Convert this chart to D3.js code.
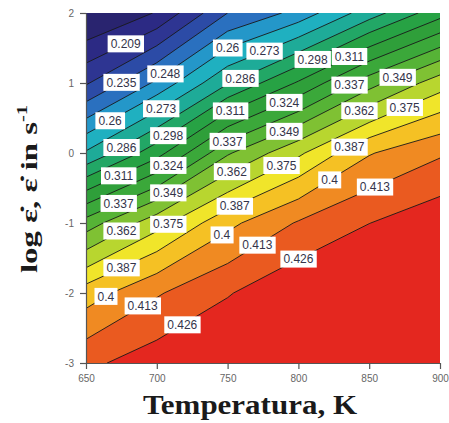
<!DOCTYPE html>
<html>
<head>
<meta charset="utf-8">
<script src="https://cdn.jsdelivr.net/npm/d3@7"></script>
<style>
  html, body { margin: 0; padding: 0; background: #ffffff; }
  svg { display: block; }
</style>
</head>
<body>
<svg id="chart" width="449" height="423"></svg>
<script>
// ---------------- data ----------------
const temps = [650, 700, 750, 800, 850, 900];          // K (grid columns)
const rates = [2, 1, 0, -1, -2, -3];                   // log strain rate (grid rows, top to bottom)
const rowL2  = [0.180, 0.197, 0.235, 0.252, 0.280, 0.306];
const rowL1  = [0.2205, 0.2505, 0.285, 0.3126, 0.344, 0.3693];
const rowL0  = [0.2747, 0.306, 0.3474, 0.3726, 0.399, 0.4113];
const rowLm1 = [0.3423, 0.370, 0.3965, 0.4143, 0.4258, 0.435];
const rowLm2 = [0.3935, 0.4116, 0.425, 0.437, 0.447, 0.455];
const rowLm3 = [0.423, 0.433, 0.440, 0.448, 0.458, 0.465];
const levels = [0.196, 0.209, 0.222, 0.235, 0.248, 0.26, 0.273, 0.286, 0.298, 0.311,
                0.324, 0.337, 0.349, 0.362, 0.375, 0.387, 0.4, 0.413, 0.426];
const labelLevels = [0.209, 0.235, 0.248, 0.26, 0.273, 0.286, 0.298, 0.311, 0.324, 0.337, 0.349, 0.362, 0.375, 0.387, 0.4, 0.413, 0.426,
                     0.26, 0.273, 0.298, 0.311, 0.286, 0.311, 0.324, 0.337, 0.349, 0.362, 0.375, 0.387, 0.4, 0.413, 0.426,
                     0.337, 0.349, 0.362, 0.375, 0.387, 0.4, 0.413];
const labelTemps  = [678, 675, 706, 667, 703, 675, 708, 673, 708, 673, 708, 675, 708, 675, 664, 690, 718,
                     750, 776, 810, 836, 759, 752, 790, 750, 790, 753, 788, 755, 746, 771, 800,
                     836, 870, 843, 875, 836, 822, 854];
const xTicks = [650, 700, 750, 800, 850, 900];
const yTicks = [2, 1, 0, -1, -2, -3];
const xTitle = "Temperatura, K";

// ---------------- styles ----------------
const bandColors = ["#29246f", "#2c2a84", "#2e3592", "#2c4ba6", "#2a70bf", "#2497c9", "#1fb0c0",
                    "#1eab98", "#22a766", "#27a244", "#2f9f3a", "#3ba83a", "#56b336", "#7fc133",
                    "#b8d62f", "#f0e52a", "#f5c124", "#f08a22", "#ea5a20", "#e4271f"];

const svg = d3.select("#chart");
const plot = {left: 86, right: 440, top: 13, bottom: 363};
const x = d3.scaleLinear().domain([temps[0], temps[temps.length - 1]]).range([plot.left, plot.right]);
const y = d3.scaleLinear().domain([rates[rates.length - 1], rates[0]]).range([plot.bottom, plot.top]);

const nx = temps.length, ny = rates.length;
const grid = [].concat(rowL2, rowL1, rowL0, rowLm1, rowLm2, rowLm3);
const dT = temps[1] - temps[0], dL = rates[0] - rates[1];
const Tof = c => temps[0] + (c - 0.5) * dT;
const Lof = r => rates[0] - (r - 0.5) * dL;

const contours = d3.contours().size([nx, ny]).smooth(true).thresholds(levels)(grid);
const proj = d3.geoTransform({ point(px, py) { this.stream.point(x(Tof(px)), y(Lof(py))); } });
const path = d3.geoPath(proj);

svg.append("clipPath").attr("id", "clip")
  .append("rect").attr("x", plot.left).attr("y", plot.top)
  .attr("width", plot.right - plot.left).attr("height", plot.bottom - plot.top);

const g = svg.append("g").attr("clip-path", "url(#clip)");
g.append("rect").attr("x", plot.left).attr("y", plot.top)
  .attr("width", plot.right - plot.left).attr("height", plot.bottom - plot.top)
  .attr("fill", bandColors[0]);
g.selectAll("path.band").data(contours).join("path")
  .attr("class", "band").attr("d", path)
  .attr("fill", (d, i) => bandColors[i + 1]).attr("stroke", "none");
g.selectAll("path.line").data(contours).join("path")
  .attr("class", "line").attr("d", path)
  .attr("fill", "none").attr("stroke", "#1a1a1a").attr("stroke-width", 0.9);

// ---------------- axes ----------------
const ax = svg.append("g").attr("transform", `translate(0,${plot.bottom})`)
  .call(d3.axisBottom(x).tickValues(xTicks).tickSize(6).tickSizeOuter(0).tickPadding(6).tickFormat(d => String(d)));
const ay = svg.append("g").attr("transform", `translate(${plot.left},0)`)
  .call(d3.axisLeft(y).tickValues(yTicks).tickSize(6).tickSizeOuter(0).tickPadding(6).tickFormat(d => String(d)));
[ax, ay].forEach(a => {
  a.select(".domain").attr("stroke", "#555").attr("stroke-width", 1.2);
  a.selectAll(".tick line").attr("stroke", "#555").attr("stroke-width", 1.2);
  a.selectAll(".tick text").attr("fill", "#666").attr("font-size", 10)
    .attr("font-family", "'Liberation Sans', Arial, sans-serif");
});

// ---------------- contour labels ----------------
function crossingY(level, T) {
  const c = contours[levels.indexOf(level)];
  const cx = (T - temps[0]) / dT + 0.5;
  for (const poly of c.coordinates) for (const ring of poly) {
    for (let k = 1; k < ring.length; k++) {
      const a = ring[k - 1], b = ring[k];
      if (a[0] === b[0]) continue;
      if ((a[0] - cx) * (b[0] - cx) <= 0) {
        const cy = a[1] + (cx - a[0]) / (b[0] - a[0]) * (b[1] - a[1]);
        if (cy > 0.01 && cy < ny - 0.01) return y(Lof(cy));
      }
    }
  }
  return null;
}
const fmt = v => String(+v.toFixed(3));
const lab = svg.append("g").attr("font-family", "'Liberation Sans', Arial, sans-serif").attr("font-size", 12);
labelLevels.forEach((lv, i) => {
  const T = labelTemps[i];
  const py = crossingY(lv, T);
  if (py === null) return;
  const px = x(T);
  const gg = lab.append("g");
  const t = gg.append("text").attr("x", px).attr("y", py).attr("dy", "0.35em")
    .attr("text-anchor", "middle").attr("fill", "#34344a").text(fmt(lv));
  const bb = t.node().getBBox();
  gg.insert("rect", "text").attr("x", bb.x - 3).attr("y", py - 8.5)
    .attr("width", bb.width + 6).attr("height", 17).attr("fill", "#ffffff");
});

// ---------------- titles ----------------
svg.append("text").attr("x", 250).attr("y", 414).attr("text-anchor", "middle")
  .attr("font-family", "'Liberation Serif', 'Times New Roman', serif").attr("font-weight", "bold")
  .attr("font-size", 28).attr("fill", "#1a1a1a")
  .attr("textLength", 214).attr("lengthAdjust", "spacingAndGlyphs").text(xTitle);

const yt = svg.append("text").attr("transform", "translate(37,189) rotate(-90)")
  .attr("text-anchor", "middle")
  .attr("font-family", "'Liberation Serif', 'Times New Roman', serif").attr("font-weight", "bold")
  .attr("font-size", 24).attr("fill", "#1a1a1a")
  .attr("textLength", 168).attr("lengthAdjust", "spacingAndGlyphs");
yt.append("tspan").text("log \u03B5\u0307, \u03B5\u0307 in s");
yt.append("tspan").attr("dy", -10).attr("font-size", 15).text("-1");
</script>
</body>
</html>
